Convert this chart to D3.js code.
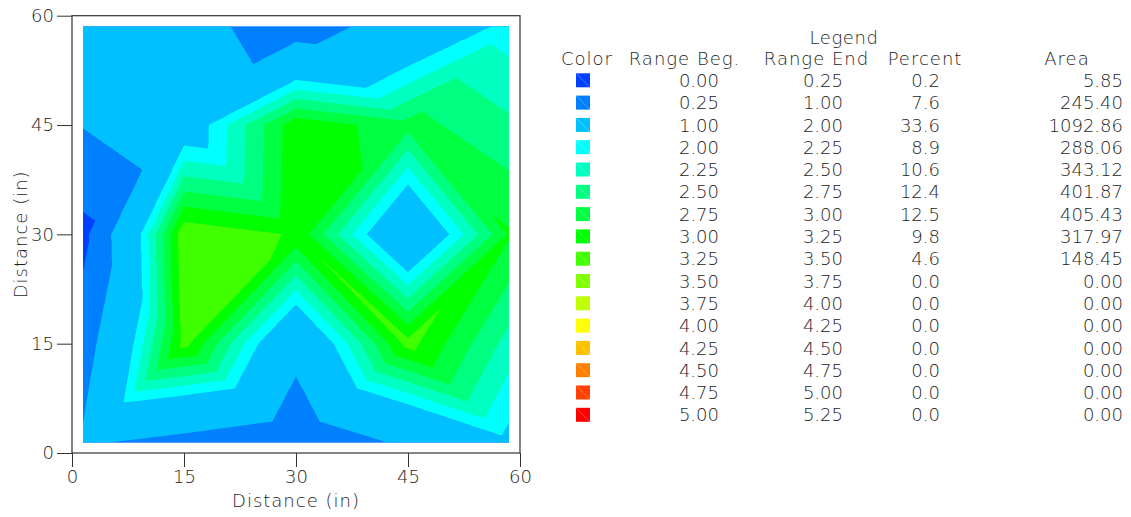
<!DOCTYPE html>
<html>
<head>
<meta charset="utf-8">
<script src="https://cdn.jsdelivr.net/npm/d3@7"></script>
<style>
  body { margin: 0; background: #ffffff; }
  svg text { font-family: "DejaVu Sans", "Liberation Sans", sans-serif; fill: #1c1c1c; font-weight: 200; }
</style>
</head>
<body>
<svg id="chart" width="1131" height="517"></svg>
<script>
// Sample positions across the plate (inches)
const gridX = [1.5, 15, 30, 45, 58.5];
const gridY = [1.5, 15, 30, 45, 58.5];

// Measured values, one row per gridY entry (bottom to top), columns follow gridX
const gridValues = [
  [1.09, 0.77, 0.37, 1.15, 1.90],
  [0.64, 3.35, 1.31, 3.35, 2.40],
  [0.05, 3.45, 3.22, 1.28, 3.03],
  [1.03, 1.66, 3.18, 2.85, 2.55],
  [1.35, 1.29, 0.59, 1.42, 2.12]
];

// Legend table
const rangeBeg = [0.00, 0.25, 1.00, 2.00, 2.25, 2.50, 2.75, 3.00, 3.25, 3.50, 3.75, 4.00, 4.25, 4.50, 4.75, 5.00];
const rangeEnd = [0.25, 1.00, 2.00, 2.25, 2.50, 2.75, 3.00, 3.25, 3.50, 3.75, 4.00, 4.25, 4.50, 4.75, 5.00, 5.25];
const percent  = [0.2, 7.6, 33.6, 8.9, 10.6, 12.4, 12.5, 9.8, 4.6, 0.0, 0.0, 0.0, 0.0, 0.0, 0.0, 0.0];
const area     = [5.85, 245.40, 1092.86, 288.06, 343.12, 401.87, 405.43, 317.97, 148.45, 0, 0, 0, 0, 0, 0, 0];
const bandColors = ["#0040ff", "#0080ff", "#00c0ff", "#00ffff", "#00ffc0", "#00ff80", "#00ff40", "#00ff00",
                    "#40ff00", "#80ff00", "#c0ff00", "#ffff00", "#ffc000", "#ff8000", "#ff4000", "#ff0000"];

const axisTicks = [0, 15, 30, 45, 60];
const axisTitle = "Distance (in)";

const svg = d3.select("#chart");

const x = d3.scaleLinear().domain([0, 60]).range([72, 520]);
const y = d3.scaleLinear().domain([0, 60]).range([453, 15.7]);

// Triangulate the sample grid, alternating the diagonal so that it
// always runs through the nodes whose index sum is even.
const node = (i, j) => [gridX[i], gridY[j], gridValues[j][i]];
const triangles = [];
for (let j = 0; j < gridY.length - 1; j++) {
  for (let i = 0; i < gridX.length - 1; i++) {
    const a = node(i, j), b = node(i + 1, j), c = node(i, j + 1), d = node(i + 1, j + 1);
    if ((i + j) % 2 === 0) {
      triangles.push([a, b, d], [a, d, c]);
    } else {
      triangles.push([a, b, c], [b, d, c]);
    }
  }
}

// Part of a linearly interpolated polygon where value >= t
function clipAbove(poly, t) {
  const out = [];
  for (let k = 0; k < poly.length; k++) {
    const A = poly[k], B = poly[(k + 1) % poly.length];
    const inA = A[2] >= t, inB = B[2] >= t;
    if (inA) out.push(A);
    if (inA !== inB) {
      const f = (t - A[2]) / (B[2] - A[2]);
      out.push([A[0] + f * (B[0] - A[0]), A[1] + f * (B[1] - A[1]), t]);
    }
  }
  return out;
}

const ring = d3.line().x(p => x(p[0])).y(p => y(p[1]));

// Filled bands, painted from the lowest range upward
const bands = rangeBeg.map((lo, k) => {
  const pieces = triangles.map(t => clipAbove(t, lo)).filter(p => p.length >= 3);
  return { k, d: pieces.map(p => ring(p) + "Z").join("") };
}).filter(b => b.d.length > 0);

svg.append("g")
  .selectAll("path")
  .data(bands)
  .join("path")
  .attr("d", b => b.d)
  .attr("fill", b => bandColors[b.k])
  .attr("stroke", b => bandColors[b.k])
  .attr("stroke-width", 0.4)
  .attr("shape-rendering", "crispEdges");

// Axes
const fontPx = 18;
const yAxis = svg.append("g")
  .attr("transform", `translate(${x(0)},0)`)
  .call(d3.axisLeft(y).tickValues(axisTicks).tickSize(15).tickPadding(3).tickFormat(d3.format("d")));
const xAxis = svg.append("g")
  .attr("transform", `translate(0,${y(0)})`)
  .call(d3.axisBottom(x).tickValues(axisTicks).tickSize(14).tickPadding(3).tickFormat(d3.format("d")));

[xAxis, yAxis].forEach(g => {
  g.select(".domain").remove();
  g.selectAll(".tick line").attr("stroke", "#333").attr("stroke-width", 1);
  g.selectAll(".tick text").attr("font-size", fontPx).attr("fill", "#1c1c1c")
    .style("font-family", "\"DejaVu Sans\", sans-serif").style("font-weight", 200);
});

// Plot frame
svg.append("rect")
  .attr("x", x(0)).attr("y", y(60))
  .attr("width", x(60) - x(0)).attr("height", y(0) - y(60))
  .attr("fill", "none").attr("stroke", "#333").attr("stroke-width", 1.2);

svg.append("text")
  .attr("x", (x(0) + x(60)) / 2).attr("y", 506.5)
  .attr("text-anchor", "middle").attr("font-size", fontPx)
  .attr("letter-spacing", 1)
  .text(axisTitle);

svg.append("text")
  .attr("transform", `translate(26.5,${y(30)}) rotate(-90)`)
  .attr("text-anchor", "middle").attr("font-size", fontPx)
  .attr("letter-spacing", 1)
  .text(axisTitle);

// Legend table
const rowY = i => 86.9 + 22.3 * i;
const legend = svg.append("g");

legend.append("text").attr("x", 844).attr("y", 43.5)
  .attr("text-anchor", "middle").attr("font-size", 18)
  .attr("letter-spacing", 0.6).text("Legend");

const headers = [
  { label: "Color", cx: 587 },
  { label: "Range Beg.", cx: 684.5 },
  { label: "Range End", cx: 816.5 },
  { label: "Percent", cx: 925 },
  { label: "Area", cx: 1067 }
];
legend.selectAll("text.hdr")
  .data(headers)
  .join("text")
  .attr("class", "hdr")
  .attr("x", h => h.cx).attr("y", 64.6)
  .attr("text-anchor", "middle").attr("font-size", 18)
  .attr("letter-spacing", 1)
  .text(h => h.label);

const rows = legend.selectAll("g.row")
  .data(rangeBeg.map((b, i) => i))
  .join("g")
  .attr("class", "row");

rows.append("rect")
  .attr("x", 576).attr("y", i => rowY(i) - 13.6)
  .attr("width", 14).attr("height", 14)
  .attr("fill", i => bandColors[i]);

rows.append("line")
  .attr("x1", 576.5).attr("y1", i => rowY(i) - 13.1)
  .attr("x2", 589.5).attr("y2", i => rowY(i) - 0.1)
  .attr("stroke", "#ffffff").attr("stroke-opacity", 0.3).attr("stroke-width", 1);

const f2 = d3.format(".2f"), f1 = d3.format(".1f");
const columns = [
  { right: 719, text: i => f2(rangeBeg[i]) },
  { right: 843, text: i => f2(rangeEnd[i]) },
  { right: 940, text: i => f1(percent[i]) },
  { right: 1123, text: i => f2(area[i]) }
];
columns.forEach(col => {
  rows.append("text")
    .attr("x", col.right).attr("y", i => rowY(i))
    .attr("text-anchor", "end").attr("font-size", fontPx)
    .text(col.text);
});
</script>
</body>
</html>
